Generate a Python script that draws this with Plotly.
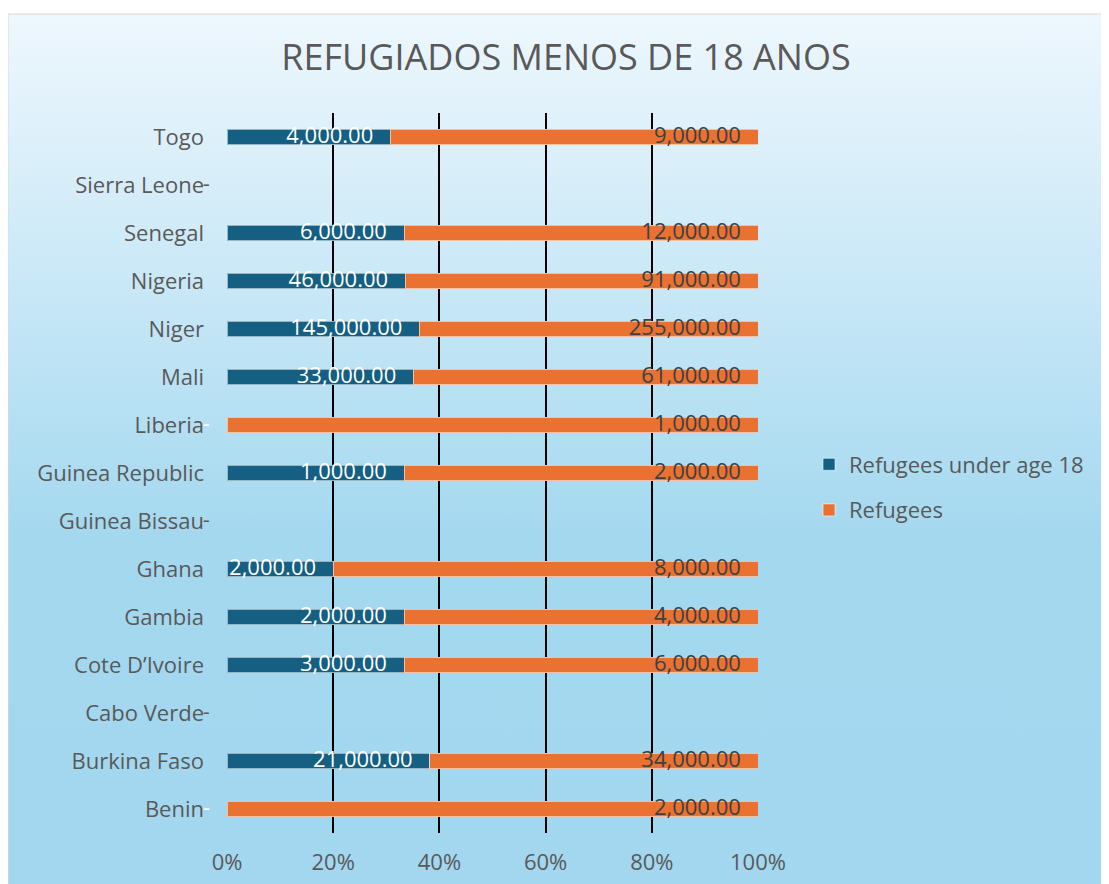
import base64
import plotly.graph_objects as go

countries = ["Benin", "Burkina Faso", "Cabo Verde", "Cote D\u2019Ivoire", "Gambia", "Ghana",
             "Guinea Bissau", "Guinea Republic", "Liberia", "Mali", "Niger", "Nigeria",
             "Senegal", "Sierra Leone", "Togo"]
under18 = [0, 21000, 0, 3000, 2000, 2000, 0, 1000, 0, 33000, 145000, 46000, 6000, 0, 4000]
refugees = [2000, 34000, 0, 6000, 4000, 8000, 0, 2000, 1000, 61000, 255000, 91000, 12000, 0, 9000]
x_ticks = [0, 20, 40, 60, 80, 100]
x_tick_labels = ["0%", "20%", "40%", "60%", "80%", "100%"]

BLUE = "#156082"
ORANGE = "#E97132"
TXT = "#595959"
FONT = "Open Sans"
FS = 22
PAD = "\u00a0\u00a0\u00a0"

def lab(v):
    return (f"{v:,.2f}" if v else "-") + PAD

totals = [u + r for u, r in zip(under18, refugees)]
pct_u = [(100.0 * u / t) if (t and u) else 0 for u, t in zip(under18, totals)]
pct_r = [100.0 if r else 0 for r in refugees]

fig = go.Figure()
fig.add_trace(go.Bar(
    y=countries, x=under18, orientation="h", name="Refugees under age 18",
    marker=dict(color=BLUE, line=dict(color="rgba(255,255,255,0.55)", width=1)),
    legendgroup="a", hoverinfo="skip"))
fig.add_trace(go.Bar(
    y=countries, x=refugees, orientation="h", name="Refugees",
    marker=dict(color=ORANGE, line=dict(color="rgba(255,255,255,0.55)", width=1)),
    legendgroup="b", hoverinfo="skip"))

# data labels (inside end of each segment; "-" for zero values at the origin)
fig.add_trace(go.Scatter(y=countries, x=pct_u, mode="text", text=[lab(v) for v in under18],
                         textposition="middle left", cliponaxis=False, showlegend=False,
                         hoverinfo="skip", textfont=dict(family=FONT, size=FS, color="white")))
fig.add_trace(go.Scatter(y=countries, x=pct_r, mode="text", text=[lab(v) for v in refugees],
                         textposition="middle left", cliponaxis=False, showlegend=False,
                         hoverinfo="skip",
                         textfont=dict(family=FONT, size=FS,
                                       color=["#404040" if v else TXT for v in refugees])))

svg = ("<svg xmlns='http://www.w3.org/2000/svg' width='100' height='100' viewBox='0 0 100 100' "
       "preserveAspectRatio='none'><defs><linearGradient id='g' x1='0' y1='0' x2='0' y2='1'>"
       "<stop offset='0' stop-color='#eef7fd'/><stop offset='0.3' stop-color='#c9e8f7'/>"
       "<stop offset='0.58' stop-color='#a4d8ef'/><stop offset='1' stop-color='#a2d7ef'/>"
       "</linearGradient></defs><rect width='100' height='100' fill='url(#g)'/></svg>")
src = "data:image/svg+xml;base64," + base64.b64encode(svg.encode()).decode()

OFF = 8  # page body offset
W, H = 1109, 884
Ls, Rs, Ts, Bs = 227, 758, 113, 833  # plot area in screen coords
pw, ph = Rs - Ls, Bs - Ts
bx0 = (8 - Ls) / pw
by1 = (Bs - 14) / ph

fig.update_layout(
    width=W, height=H, autosize=False,
    margin=dict(l=Ls - OFF, r=W - (Rs - OFF), t=Ts - OFF, b=H - (Bs - OFF), pad=0),
    paper_bgcolor="white", plot_bgcolor="rgba(0,0,0,0)",
    barmode="stack", barnorm="percent", bargap=0.67,
    font=dict(family=FONT, color=TXT, size=FS),
    title=dict(text="REFUGIADOS MENOS DE 18 ANOS", xref="container", yref="container",
               x=(566 - OFF) / W, y=1 - (57 - OFF) / H, xanchor="center", yanchor="middle",
               automargin=False, font=dict(family=FONT, size=36, color=TXT)),
    xaxis=dict(range=[0, 100], tickvals=x_ticks, ticktext=x_tick_labels, showgrid=True,
               gridcolor="#000000", gridwidth=1.6, zeroline=False, showline=False,
               ticks="", ticklabelstandoff=14, automargin=False,
               tickfont=dict(family=FONT, size=FS, color=TXT), fixedrange=True),
    yaxis=dict(type="category", categoryorder="array", categoryarray=countries,
               range=[-0.5, len(countries) - 0.5],
               showgrid=False, zeroline=False, showline=False, ticks="", automargin=False,
               ticklabelstandoff=22, tickfont=dict(family=FONT, size=FS, color=TXT),
               fixedrange=True),
    legend=dict(x=(809 - Ls) / pw, y=(Bs - 487.5) / ph, xanchor="left", yanchor="middle",
                traceorder="grouped", tracegroupgap=14, bgcolor="rgba(0,0,0,0)",
                font=dict(family=FONT, size=FS, color=TXT)),
    images=[dict(source=src, xref="paper", yref="paper", x=bx0, y=by1,
                 sizex=(W + 30 - 8) / pw, sizey=(H + 30 - 14) / ph,
                 xanchor="left", yanchor="top", sizing="stretch", layer="below")],
    shapes=[dict(type="rect", xref="paper", yref="paper", x0=bx0, x1=(W + 30 - Ls) / pw,
                 y0=(Bs - H - 30) / ph, y1=by1, line=dict(color="#d9d9d9", width=1),
                 fillcolor="rgba(0,0,0,0)", layer="below")],
)

fig.write_html("out.html")
